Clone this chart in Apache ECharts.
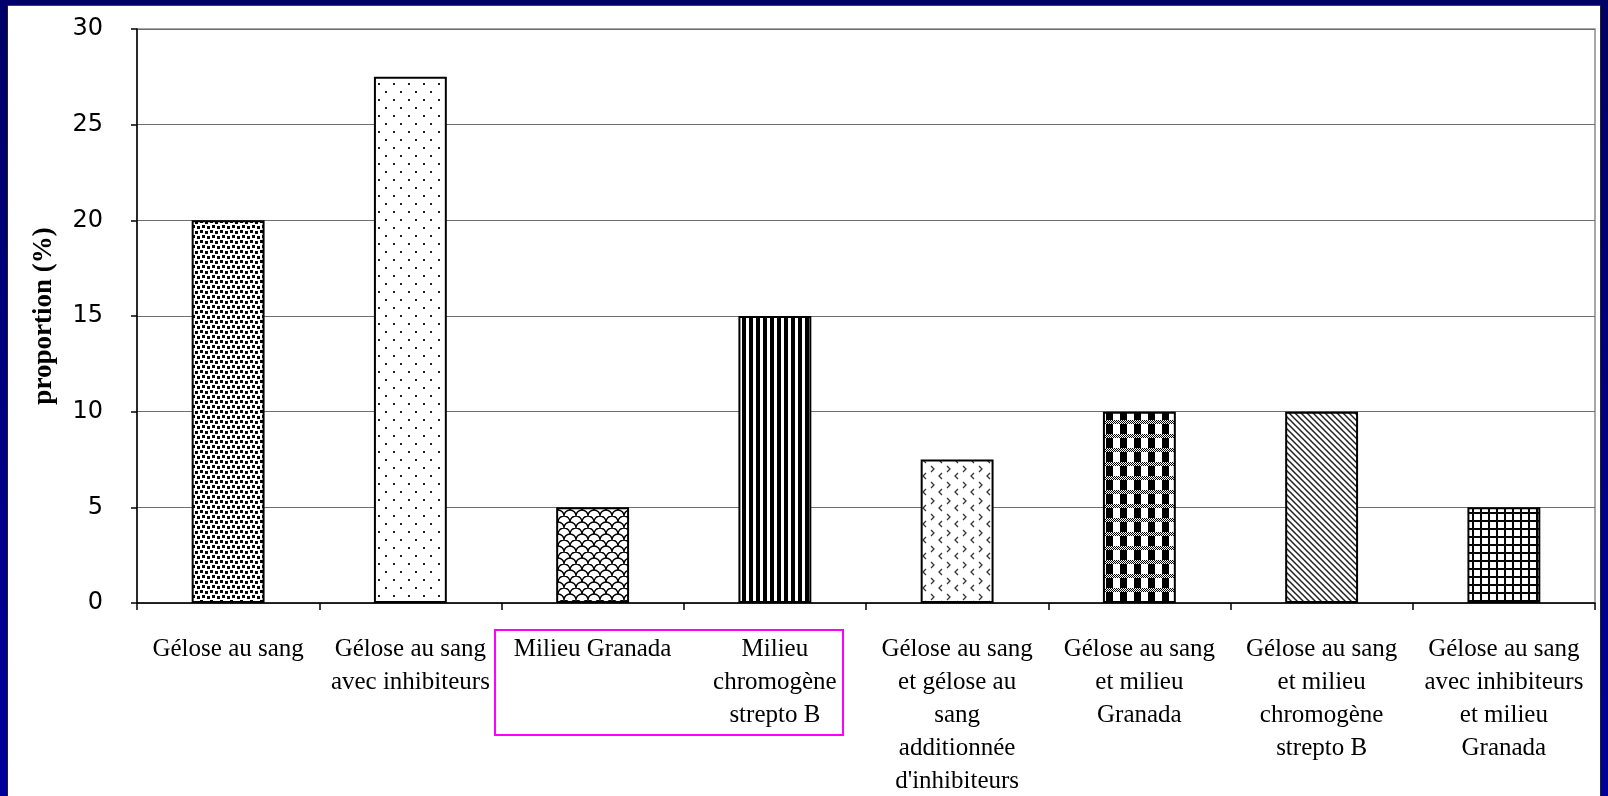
<!DOCTYPE html>
<html>
<head>
<meta charset="utf-8">
<script src="https://cdn.jsdelivr.net/npm/echarts@6/dist/echarts.min.js"></script>
<style>
  html, body { margin: 0; padding: 0; background: #ffffff; overflow: hidden; }
  #chart { width: 1608px; height: 796px; }
</style>
</head>
<body>
<div id="chart"></div>
<script>
// Culture media compared (category labels, line breaks as printed)
const categories = [
  'Gélose au sang',
  'Gélose au sang\navec inhibiteurs',
  'Milieu Granada',
  'Milieu\nchromogène\nstrepto B',
  'Gélose au sang\net gélose au\nsang\nadditionnée\nd\'inhibiteurs',
  'Gélose au sang\net milieu\nGranada',
  'Gélose au sang\net milieu\nchromogène\nstrepto B',
  'Gélose au sang\navec inhibiteurs\net milieu\nGranada'
];

// Proportion of laboratories using each medium (%)
const proportions = [20, 27.5, 5, 15, 7.5, 10, 10, 5];

// Value axis range and step
const yMin = 0;
const yMax = 30;
const yStep = 5;

const yAxisTitle = 'proportion (%)';

// ---- hatch fills, one per bar ----
function tile(w, h, paint) {
  const c = document.createElement('canvas');
  c.width = w; c.height = h;
  const g = c.getContext('2d');
  g.fillStyle = '#ffffff';
  g.fillRect(0, 0, w, h);
  paint(g);
  return { image: c, repeat: 'repeat' };
}

const fills = [
  // dense scattered squares
  tile(10, 10, g => {
    g.fillStyle = '#000';
    g.fillRect(0, 0, 3, 3);
    g.fillRect(5, 1, 3, 3);
    g.fillRect(2, 5, 3, 3);
    g.fillRect(7, 6, 3, 3);
  }),
  // sparse dots
  tile(15, 16, g => {
    g.fillStyle = '#222';
    g.fillRect(3, 3, 2, 2);
    g.fillRect(10, 11, 2, 2);
  }),
  // wavy scales
  tile(12, 12, g => {
    g.strokeStyle = '#000';
    g.lineWidth = 1.4;
    g.beginPath(); g.arc(6, 12, 6, Math.PI, 2 * Math.PI); g.stroke();
    g.beginPath(); g.arc(0, 6, 6, Math.PI, 2 * Math.PI); g.stroke();
    g.beginPath(); g.arc(12, 6, 6, Math.PI, 2 * Math.PI); g.stroke();
  }),
  // vertical stripes
  tile(7, 2, g => {
    g.fillStyle = '#000';
    g.fillRect(0, 0, 4, 2);
  }),
  // chevrons
  tile(16, 16, g => {
    g.strokeStyle = '#333';
    g.lineWidth = 1.3;
    g.beginPath(); g.moveTo(3, 2); g.lineTo(6, 5); g.lineTo(3, 8); g.stroke();
    g.beginPath(); g.moveTo(14, 9); g.lineTo(11, 12); g.lineTo(14, 15); g.stroke();
  }),
  // plaid
  tile(14, 14, g => {
    g.fillStyle = '#000';
    for (let y = 0; y < 4; y++) {
      for (let x = 0; x < 14; x++) {
        if ((x + y) % 2 === 0) g.fillRect(x, y, 1, 1);
      }
    }
    g.fillRect(0, 4, 7, 10);
  }),
  // diagonal lines
  tile(6, 6, g => {
    g.strokeStyle = '#222';
    g.lineWidth = 1.5;
    g.beginPath();
    g.moveTo(-1, -1); g.lineTo(7, 7);
    g.moveTo(-1, 5); g.lineTo(1, 7);
    g.moveTo(5, -1); g.lineTo(7, 1);
    g.stroke();
  }),
  // square grid
  tile(8, 8, g => {
    g.fillStyle = '#000';
    g.fillRect(0, 0, 8, 2);
    g.fillRect(0, 0, 2, 8);
  })
];

const chart = echarts.init(document.getElementById('chart'), null, { renderer: 'canvas' });

const frameGradient = new echarts.graphic.LinearGradient(0, 0, 0, 1, [
  { offset: 0, color: '#000066' },
  { offset: 1, color: '#00009c' }
]);

chart.setOption({
  backgroundColor: '#ffffff',
  animation: false,
  grid: {
    left: 137,
    right: 13,
    top: 29,
    bottom: 193,
    outerBoundsMode: 'none',
    containLabel: false,
    show: true,
    borderColor: '#8a8a8a',
    borderWidth: 1.5,
    backgroundColor: 'transparent'
  },
  xAxis: {
    type: 'category',
    data: categories,
    boundaryGap: true,
    axisLine: { show: true, lineStyle: { color: '#000', width: 1.5 } },
    axisTick: { show: true, alignWithLabel: false, length: 7, lineStyle: { color: '#000', width: 1.5 } },
    axisLabel: {
      interval: 0,
      color: '#000',
      fontFamily: 'Liberation Serif',
      fontSize: 25,
      lineHeight: 33,
      margin: 30,
      align: 'center'
    },
    splitLine: { show: false }
  },
  yAxis: {
    type: 'value',
    min: yMin,
    max: yMax,
    interval: yStep,
    name: yAxisTitle,
    nameLocation: 'middle',
    nameRotate: 90,
    nameGap: 79,
    nameTextStyle: {
      color: '#000',
      fontFamily: 'Liberation Serif',
      fontWeight: 'bold',
      fontSize: 27
    },
    axisLine: { show: true, lineStyle: { color: '#000', width: 1.5 } },
    axisTick: { show: true, length: 6, lineStyle: { color: '#000', width: 1.5 } },
    axisLabel: {
      color: '#000',
      fontFamily: 'DejaVu Sans',
      fontSize: 24,
      margin: 34
    },
    splitLine: { show: true, lineStyle: { color: '#6e6e6e', width: 1.2 } }
  },
  series: [{
    type: 'bar',
    barWidth: '40%',
    data: proportions.map((v, i) => ({
      value: v,
      itemStyle: { color: fills[i] }
    })),
    itemStyle: { borderColor: '#000', borderWidth: 2 }
  }],
  graphic: [
    // slide frame
    { type: 'rect', z: 100, shape: { x: 0, y: 0, width: 7, height: 796 }, style: { fill: frameGradient } },
    { type: 'rect', z: 100, shape: { x: 1601, y: 0, width: 7, height: 796 }, style: { fill: frameGradient } },
    { type: 'rect', z: 100, shape: { x: 0, y: 0, width: 1608, height: 5 }, style: { fill: '#000066' } },
    { type: 'rect', z: 100, shape: { x: 7, y: 5, width: 1594, height: 1 }, style: { fill: '#444' } },
    { type: 'rect', z: 100, shape: { x: 7, y: 5, width: 1, height: 791 }, style: { fill: '#222' } },
    { type: 'rect', z: 100, shape: { x: 1600, y: 5, width: 1, height: 791 }, style: { fill: '#222' } },
    // highlight box around two labels
    {
      type: 'rect', z: 100,
      shape: { x: 495, y: 630, width: 348, height: 105 },
      style: { fill: 'none', stroke: '#ff00ff', lineWidth: 2 }
    }
  ]
});
</script>
</body>
</html>
